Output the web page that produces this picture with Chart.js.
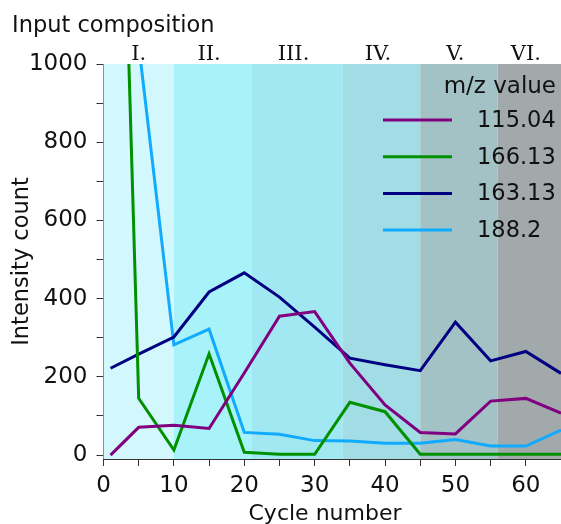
<!DOCTYPE html>
<html>
<head>
    <title>Input composition</title>
    <script src="https://cdn.jsdelivr.net/npm/chart.js"></script>
    <style>
        html, body { margin: 0; padding: 0; background: #ffffff; overflow: hidden; }
        canvas { display: block; }
    </style>
</head>
<body>
    <canvas id="cycleChart" width="561" height="524"></canvas>
<script>
// chart values
const cycles = [1, 5, 10, 15, 20, 25, 30, 35, 40, 45, 50, 55, 60, 65];
const mz115 = [0, 71, 76, 68, 210, 355, 367, 235, 128, 58, 54, 138, 145, 107];
const mz166 = [2600, 145, 13, 259, 7, 2, 2, 135, 111, 2, 2, 2, 2, 2];
const mz163 = [222, 258, 302, 417, 466, 404, 327, 248, 231, 216, 340, 241, 265, 209];
const mz188 = [2800, 1050, 282, 322, 58, 53, 37, 36, 30, 30, 40, 23, 23, 64];
const seriesLabels = ['115.04', '166.13', '163.13', '188.2'];

// input composition bands
const bandEdges = [0, 10, 21, 34, 45, 56, 65];
const bandLabels = ['I.', 'II.', 'III.', 'IV.', 'V.', 'VI.'];
const bandLabelAt = [5, 15, 27, 39, 50, 60];
const bandColors = ['#d2f7fd', '#a8f2fa', '#a2e8f2', '#a2dce4', '#a2c2c6', '#a2a9aa'];

const xTicks = [0, 10, 20, 30, 40, 50, 60];
const yTicks = [0, 200, 400, 600, 800, 1000];

const lineColors = ['#800080', '#009000', '#000080', '#10aaff'];
const textColor = '#111111';
const fontFam = '"DejaVu Sans", Verdana, sans-serif';

function points(vals) {
    return cycles.map(function (c, i) { return { x: c, y: vals[i] }; });
}

// shaded bands behind the lines, plus title, band names and x title
const bandPlugin = {
    id: 'bands',
    beforeDatasetsDraw: function (chart) {
        const ctx = chart.ctx;
        const area = chart.chartArea;
        const xs = chart.scales.x;
        ctx.save();
        for (let i = 0; i < bandLabels.length; i++) {
            const x0 = xs.getPixelForValue(bandEdges[i]);
            const x1 = xs.getPixelForValue(bandEdges[i + 1]);
            ctx.fillStyle = bandColors[i];
            ctx.fillRect(x0, area.top, x1 - x0, area.bottom - area.top);
        }
        ctx.restore();
    },
    afterDraw: function (chart) {
        const ctx = chart.ctx;
        const xs = chart.scales.x;
        ctx.save();
        ctx.fillStyle = textColor;
        ctx.textBaseline = 'alphabetic';
        ctx.font = '22.5px ' + fontFam;
        ctx.textAlign = 'left';
        ctx.fillText('Input composition', 12, 32);
        ctx.font = '21px "DejaVu Serif", serif';
        ctx.textAlign = 'center';
        for (let i = 0; i < bandLabels.length; i++) {
            ctx.fillText(bandLabels[i], xs.getPixelForValue(bandLabelAt[i]), 60);
        }
        // x axis title, sits a bit left of the plot centre
        ctx.font = '22px ' + fontFam;
        ctx.textBaseline = 'middle';
        ctx.fillText('Cycle number', 325, 514);
        ctx.restore();
    }
};

// legend drawn inside the plot, top right
const legendPlugin = {
    id: 'mzLegend',
    afterDatasetsDraw: function (chart) {
        const ctx = chart.ctx;
        ctx.save();
        ctx.fillStyle = textColor;
        ctx.font = '23px ' + fontFam;
        ctx.textAlign = 'right';
        ctx.textBaseline = 'alphabetic';
        ctx.fillText('m/z value', 556, 93);
        ctx.font = '22.5px ' + fontFam;
        ctx.textAlign = 'left';
        ctx.textBaseline = 'middle';
        chart.data.datasets.forEach(function (ds, i) {
            const y = 120 + i * 36.7;
            ctx.strokeStyle = ds.borderColor;
            ctx.lineWidth = 3;
            ctx.beginPath();
            ctx.moveTo(383, y);
            ctx.lineTo(452, y);
            ctx.stroke();
            ctx.fillText(ds.label, 477, y + 1);
        });
        ctx.restore();
    }
};

const ctx = document.getElementById('cycleChart').getContext('2d');
const cycleChart = new Chart(ctx, {
    type: 'line',
    data: {
        datasets: [mz115, mz166, mz163, mz188].map(function (vals, i) {
            return {
                label: seriesLabels[i],
                data: points(vals),
                borderColor: lineColors[i],
                backgroundColor: lineColors[i],
                borderWidth: 3,
                pointRadius: 0,
                tension: 0,
                fill: false
            };
        })
    },
    options: {
        responsive: false,
        animation: false,
        layout: { padding: { top: 64, right: 0, left: 0, bottom: 0 } },
        plugins: {
            legend: { display: false },
            tooltip: { enabled: false }
        },
        scales: {
            x: {
                type: 'linear',
                min: 0,
                max: 65,
                afterBuildTicks: function (scale) {
                    const t = [];
                    for (let v = 0; v <= 65; v += 5) t.push({ value: v });
                    scale.ticks = t;
                },
                afterFit: function (scale) {
                    scale.height = 65;
                    scale.paddingLeft = 0;
                    scale.paddingRight = 0;
                },
                ticks: {
                    color: textColor,
                    font: { family: fontFam, size: 23 },
                    padding: 6,
                    maxRotation: 0,
                    autoSkip: false,
                    callback: function (v) { return xTicks.indexOf(v) >= 0 ? String(v) : ''; }
                },
                grid: {
                    drawOnChartArea: false,
                    tickLength: 7,
                    color: '#333333',
                    tickColor: '#333333'
                },
                border: { color: '#333333', width: 1 },
                title: { display: false }
            },
            y: {
                type: 'linear',
                min: -10,
                max: 1000,
                afterBuildTicks: function (scale) {
                    const t = [];
                    for (let v = 0; v <= 1000; v += 100) t.push({ value: v });
                    scale.ticks = t;
                },
                afterFit: function (scale) {
                    scale.width = 103.5;
                    scale.paddingTop = 0;
                    scale.paddingBottom = 0;
                },
                ticks: {
                    color: textColor,
                    font: { family: fontFam, size: 23 },
                    padding: 9,
                    autoSkip: false,
                    callback: function (v) { return yTicks.indexOf(v) >= 0 ? String(v) : ''; }
                },
                grid: {
                    drawOnChartArea: false,
                    tickLength: 7,
                    color: '#333333',
                    tickColor: '#333333'
                },
                border: { color: '#333333', width: 1 },
                title: {
                    display: true,
                    text: 'Intensity count',
                    color: textColor,
                    font: { family: fontFam, size: 22.5 },
                    padding: { top: 9, bottom: 4 }
                }
            }
        }
    },
    plugins: [bandPlugin, legendPlugin]
});
</script>
</body>
</html>
